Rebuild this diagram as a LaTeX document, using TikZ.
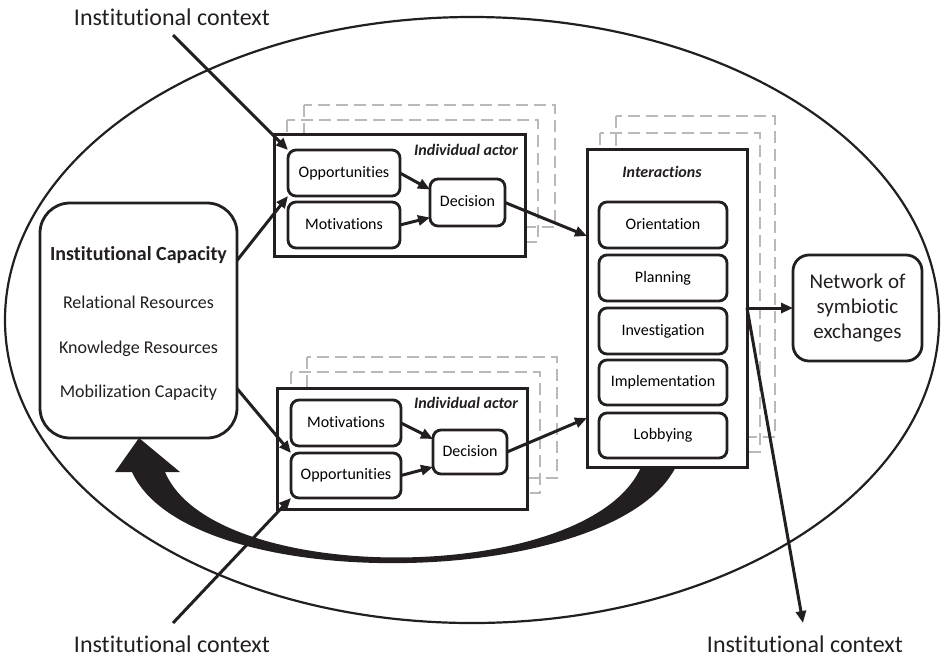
\documentclass[tikz,border=0pt]{standalone}
\usepackage{fontspec}
\setmainfont{Carlito}[Ligatures={NoCommon,NoRare,NoContextual},Contextuals=NoAlternate]
\usetikzlibrary{arrows.meta,calc}
\definecolor{ink}{RGB}{35,31,32}
\definecolor{shade}{RGB}{185,185,185}
\begin{document}
\begin{tikzpicture}[x=1pt,y=-1pt,
  every node/.style={inner sep=0pt, outer sep=0pt},
  frame/.style={draw=ink, line width=3pt, fill=white, rectangle},
  rbox/.style={draw=ink, line width=2.8pt, fill=white, rounded corners=8pt,
    font=\fontsize{16}{19}\selectfont, text height=11pt, text depth=3pt},
  ghost/.style={draw=shade, line width=2.6pt, dash pattern=on 12pt off 6pt},
  conn/.style={draw=ink, line width=3pt, -{Triangle[length=12pt,width=10pt]}},
  ctx/.style={font=\fontsize{24}{28}\selectfont, anchor=base, text=ink},
  lbl/.style={font=\fontsize{16}{19}\selectfont\bfseries\itshape, text=ink},
  captext/.style={font=\fontsize{18}{22}\selectfont, anchor=base, text=ink}
]
\useasboundingbox (0,0) rectangle (941,657);

% outer ellipse
\draw[ink, line width=2.2pt] (472,320) ellipse [x radius=467pt, y radius=303pt];

% feedback band
\fill[ink] (678,462) .. controls (625,590) and (190,600) .. (132,472)
  -- (115,472) -- (139,438) -- (180,472) -- (165,472)
  .. controls (215,590) and (600,585) .. (643,462) -- cycle;

% texts: institutional context
\node[ctx] (ctxT) at (172,25) {Institutional context};
\node[ctx] (ctxL) at (172,652) {Institutional context};
\node[ctx] (ctxR) at (805,652) {Institutional context};
\coordinate (ctxTs) at (173,35);
\coordinate (ctxLs) at (173,623);
\coordinate (ctxRe) at (803,623);

% institutional capacity
\node[draw=ink, line width=2.8pt, fill=white, rounded corners=30pt,
  minimum width=197pt, minimum height=235pt] (cap) at (138.5,320.5) {};
\node[captext, font=\fontsize{20}{24}\selectfont\bfseries] (capT) at (138.5,260) {Institutional Capacity};
\node[captext] (capR) at (138.5,308) {Relational Resources};
\node[captext] (capK) at (138.5,353) {Knowledge Resources};
\node[captext] (capM) at (138.5,397) {Mobilization Capacity};

% shadows of actor 1
\draw[ghost] (304,105) rectangle (555,227);
\draw[ghost] (287,120) rectangle (538,242);
% actor 1
\node[frame, minimum width=251pt, minimum height=122pt] (act1) at (399.5,195) {};
\node[lbl, anchor=base east] (act1l) at (518,155) {Individual actor};
\node[rbox, minimum width=112pt, minimum height=46pt] (opp1) at (344,173) {Opportunities};
\node[rbox, minimum width=112pt, minimum height=46pt] (mot1) at (344,225) {Motivations};
\node[rbox, minimum width=75pt, minimum height=47pt] (dec1) at (467.5,202.5) {Decision};

% shadows of actor 2
\draw[ghost] (307,357) rectangle (557,478);
\draw[ghost] (291,372) rectangle (540,493);
% actor 2
\node[frame, minimum width=250pt, minimum height=121pt] (act2) at (402,448.5) {};
\node[lbl, anchor=base east] (act2l) at (518,408) {Individual actor};
\node[rbox, minimum width=110pt, minimum height=46pt] (mot2) at (346,423) {Motivations};
\node[rbox, minimum width=110pt, minimum height=45pt] (opp2) at (346,475.5) {Opportunities};
\node[rbox, minimum width=74pt, minimum height=44pt] (dec2) at (470,452) {Decision};

% shadows of interactions
\draw[ghost] (616,116) rectangle (775,437);
\draw[ghost] (600,133) rectangle (760,452);
% interactions
\node[frame, minimum width=160pt, minimum height=318pt] (inter) at (667,308) {};
\node[lbl, anchor=base] (interl) at (662,177) {Interactions};
\node[rbox, minimum width=128pt, minimum height=46pt] (ori) at (663,225) {Orientation};
\node[rbox, minimum width=128pt, minimum height=46pt] (pla) at (663,278) {Planning};
\node[rbox, minimum width=128pt, minimum height=46pt] (inv) at (663,331) {Investigation};
\node[rbox, minimum width=128pt, minimum height=45pt] (imp) at (663,382.5) {Implementation};
\node[rbox, minimum width=128pt, minimum height=45pt] (lob) at (663,435.5) {Lobbying};

% network
\node[draw=ink, line width=2.8pt, fill=white, rounded corners=16pt,
  minimum width=129pt, minimum height=106pt, align=center,
  font=\fontsize{21}{25}\selectfont, text=ink] (net) at (857.5,308)
  {Network of\\symbiotic\\exchanges};

% connectors
\draw[conn] (ctxTs) -- (opp1.north west);
\draw[conn] (ctxLs) -- (opp2.south west);
\draw[conn] ($(cap.east)+(0,-60)$) -- (opp1.south west);
\draw[conn] ($(cap.east)+(0,68)$) -- (opp2.north west);
\draw[conn] (opp1.east) -- ($(dec1.west)+(0,-13)$);
\draw[conn] (mot1.east) -- ($(dec1.west)+(0,15)$);
\draw[conn] (dec1.east) -- ($(inter.west)+(0,-72)$);
\draw[conn] (mot2.east) -- ($(dec2.west)+(0,-13)$);
\draw[conn] (opp2.east) -- ($(dec2.west)+(0,15)$);
\draw[conn] (dec2.east) -- ($(inter.west)+(0,110)$);
\draw[conn] (inter.east) -- (net.west);
\draw[conn] (inter.east) -- (ctxRe);
\end{tikzpicture}
\end{document}
